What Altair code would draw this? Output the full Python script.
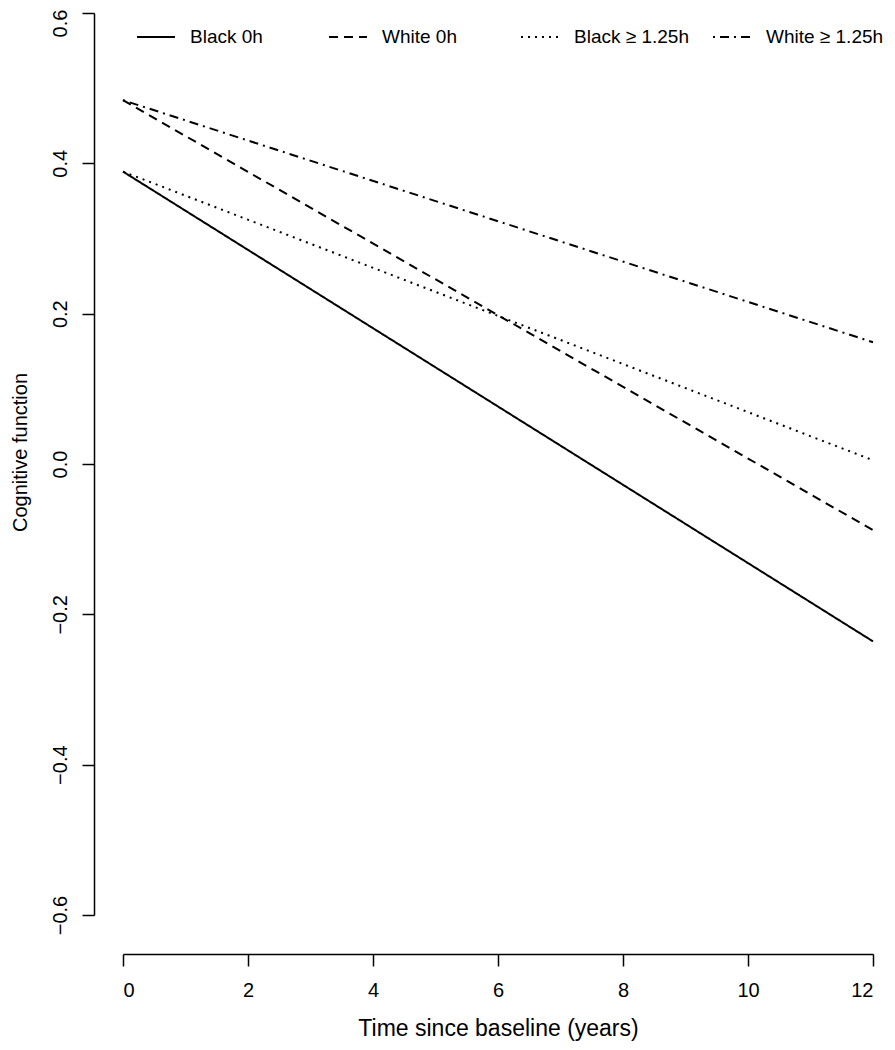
import altair as alt
import pandas as pd

series = ["Black 0h", "White 0h", "Black \u2265 1.25h", "White \u2265 1.25h"]
times = [0, 12]
start_vals = [0.389, 0.484, 0.389, 0.484]
end_vals = [-0.236, -0.088, 0.005, 0.162]
dashes = [[1, 0], [9, 6], [2, 5], [2, 5, 9, 5]]
x_ticks = [0, 2, 4, 6, 8, 10, 12]
y_ticks = [-0.6, -0.4, -0.2, 0.0, 0.2, 0.4, 0.6]

rows = []
for s, a, b in zip(series, start_vals, end_vals):
    rows.append({"series": s, "time": times[0], "value": a})
    rows.append({"series": s, "time": times[1], "value": b})
df = pd.DataFrame(rows)

FONT = "Liberation Sans"

chart = alt.Chart(df).mark_line(color="black", strokeWidth=2).encode(
    x=alt.X("time:Q",
            scale=alt.Scale(domain=[0, 12], nice=False, zero=False),
            axis=alt.Axis(values=x_ticks, title="Time since baseline (years)",
                          offset=39, tickSize=12, labelPadding=14,
                          titlePadding=17, titleFontSize=23, format="d")),
    y=alt.Y("value:Q",
            scale=alt.Scale(domain=[-0.6, 0.6], nice=False, zero=False),
            axis=alt.Axis(values=y_ticks, title="Cognitive function",
                          offset=29, tickSize=12, labelAngle=-90,
                          labelPadding=12, titlePadding=20, titleY=439,
                          titleFontSize=20, format=".1f",
                          labelOffset={"condition": {"test": "datum.value > 0.55",
                                                     "value": 10},
                                       "value": 0})),
    strokeDash=alt.StrokeDash("series:N",
                              scale=alt.Scale(domain=series, range=dashes),
                              sort=series,
                              legend=alt.Legend(title=None, orient="none",
                                                direction="horizontal",
                                                legendX=13, legendY=4,
                                                symbolSize=1444,
                                                symbolStrokeWidth=2,
                                                symbolStrokeColor="black",
                                                labelFontSize=19,
                                                labelOffset=14,
                                                columnPadding=17,
                                                gridAlign="all",
                                                padding=0)),
).properties(
    width=750, height=902,
    autosize=alt.AutoSizeParams(type="none"),
    padding={"left": 115, "top": 5, "right": 14, "bottom": 127},
).configure_view(stroke=None).configure_axis(
    grid=False, domainColor="black", tickColor="black", domainWidth=1.5,
    tickWidth=1.5, labelColor="black", titleColor="black",
    labelFont=FONT, titleFont=FONT, labelFontSize=20, titleFontSize=21,
    titleFontWeight="normal",
).configure_legend(labelFont=FONT, labelColor="black")

chart.save("out.html", embed_options={"renderer": "svg", "actions": False})
